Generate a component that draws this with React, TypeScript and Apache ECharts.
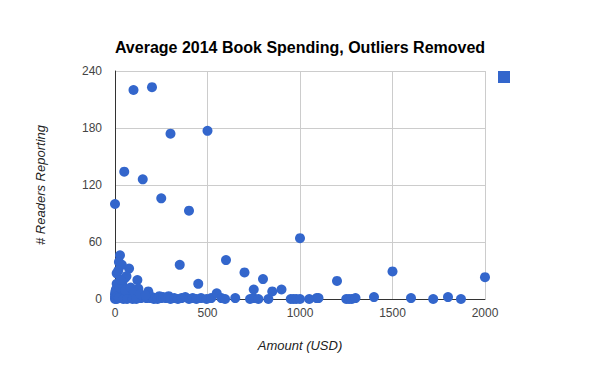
import React, { useEffect, useRef } from "react";
import * as echarts from "echarts";

const title = "Average 2014 Book Spending, Outliers Removed";
const xAxisName = "Amount (USD)";
const yAxisName = "# Readers Reporting";
const seriesName = "Readers";

// [amount, readers]
const highPoints: number[][] = [
  [100, 220], [200, 223], [300, 174], [500, 177], [50, 134], [150, 126],
  [0, 100], [250, 106], [400, 93], [1000, 64], [350, 36], [600, 41],
  [450, 16], [700, 28], [800, 21], [750, 10], [850, 8], [900, 10],
  [1200, 19], [1500, 29], [2000, 23],
];

const farLowPoints: number[][] = [
  [1400, 2], [1800, 2], [1600, 1], [1720, 0], [1870, 0], [1250, 0],
  [1265, 0], [1280, 0], [1300, 1], [950, 0], [965, 0], [980, 0],
  [1000, 0], [1050, 0], [1090, 1], [1100, 1],
];

const clusterPoints: number[][] = [
  [27, 46], [21, 39], [76, 32], [9, 27], [54, 22], [121, 20], [9, 16],
  [126, 11], [180, 8], [37, 36], [62, 24], [5, 10], [15, 5], [25, 3],
  [35, 6], [50, 4], [60, 2], [70, 8], [80, 3], [90, 5], [100, 2],
  [110, 4], [130, 2], [140, 1], [150, 3], [160, 2], [170, 1], [190, 1],
  [200, 2], [210, 0], [220, 1], [230, 0], [240, 3], [250, 1], [260, 2],
  [275, 1], [290, 3], [300, 0], [320, 1], [340, 0], [360, 1], [380, 2],
  [400, 0], [420, 1], [440, 0], [465, 1], [495, 0], [520, 1], [550, 6],
  [575, 1], [595, 0], [650, 1], [730, 0], [748, 1], [775, 0], [829, 0],
  [0, 0], [0, 2], [0, 5], [2, 8], [5, 1], [10, 0], [12, 3], [20, 1],
  [25, 12], [40, 15], [45, 0], [55, 9], [65, 0], [85, 12], [95, 0],
  [105, 7], [115, 0], [135, 5], [165, 4], [30, 20], [18, 30],
];

const xTicks = { min: 0, max: 2000, interval: 500 };
const yTicks = { min: 0, max: 240, interval: 60 };

export default function App() {
  const ref = useRef<HTMLDivElement>(null);
  useEffect(() => {
    if (!ref.current) return;
    const chart = echarts.init(ref.current, null, { renderer: "svg" });
    const font = "'Liberation Sans', Arial, sans-serif";
    chart.setOption({
      animation: false,
      backgroundColor: "#ffffff",
      title: {
        text: title,
        left: "center",
        top: 34,
        textStyle: { fontFamily: font, fontSize: 16, fontWeight: "bold", color: "#000" },
      },
      grid: { left: 115, right: 115, top: 71, bottom: 72 },
      graphic: [
        {
          type: "rect",
          left: 498,
          top: 71,
          shape: { width: 12, height: 12 },
          style: { fill: "#3366cc" },
        },
      ],
      xAxis: {
        type: "value",
        min: xTicks.min,
        max: xTicks.max,
        interval: xTicks.interval,
        name: xAxisName,
        nameLocation: "middle",
        nameGap: 40,
        nameTextStyle: { fontFamily: font, fontSize: 13, fontStyle: "italic", color: "#222" },
        axisLine: { show: true, onZero: false, lineStyle: { color: "#333", width: 1 } },
        axisTick: { show: false },
        axisLabel: {
          fontFamily: font,
          fontSize: 12,
          color: "#444",
          margin: 8,
          formatter: (v: number) => String(v),
        },
        splitLine: { show: true, lineStyle: { color: "#cccccc", width: 1 } },
      },
      yAxis: {
        type: "value",
        min: yTicks.min,
        max: yTicks.max,
        interval: yTicks.interval,
        name: yAxisName,
        nameLocation: "middle",
        nameGap: 68,
        nameRotate: 90,
        nameTextStyle: { fontFamily: font, fontSize: 13, fontStyle: "italic", color: "#222" },
        axisLine: { show: true, lineStyle: { color: "#333", width: 1 } },
        axisTick: { show: false },
        axisLabel: {
          fontFamily: font,
          fontSize: 12,
          color: "#444",
          margin: 13,
          formatter: (v: number) => String(v),
        },
        splitLine: { show: true, lineStyle: { color: "#cccccc", width: 1 } },
      },
      series: [
        {
          name: seriesName,
          type: "scatter",
          symbolSize: 10,
          itemStyle: { color: "#3366cc", opacity: 1 },
          data: [...clusterPoints, ...farLowPoints, ...highPoints],
          clip: false,
        },
      ],
    });
    return () => chart.dispose();
  }, []);
  return <div ref={ref} style={{ width: 600, height: 371, margin: -8 }} />;
}
